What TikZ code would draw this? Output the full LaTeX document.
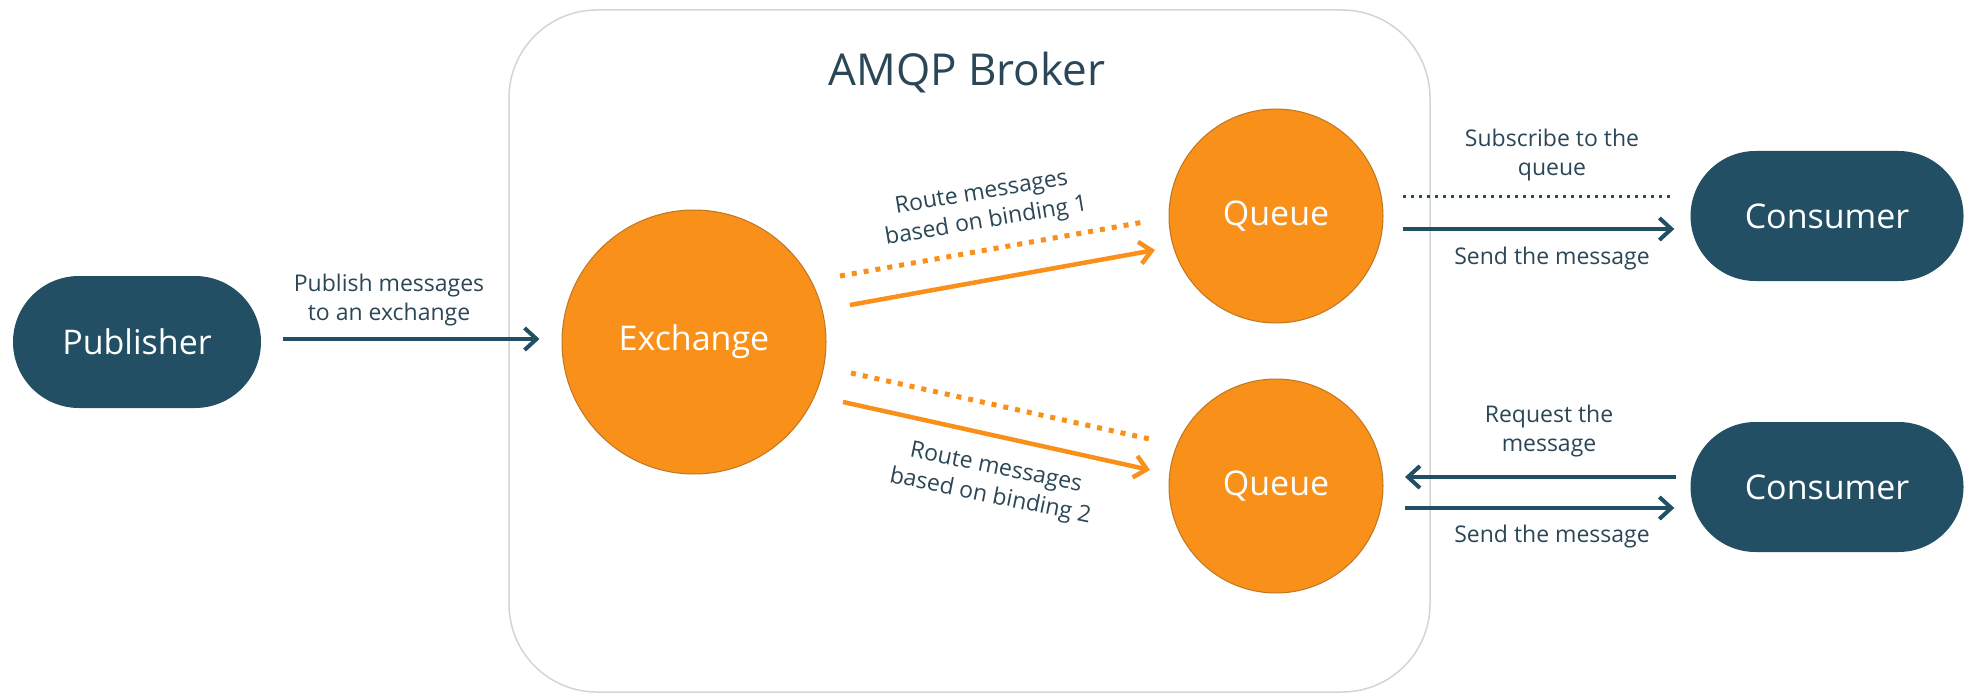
\documentclass[tikz,border=0pt]{standalone}
\usepackage{fontspec}
\setmainfont{Open Sans}
\usetikzlibrary{arrows.meta,shapes.misc,calc}
\definecolor{navy}{HTML}{224F63}
\definecolor{txt}{HTML}{2B4757}
\definecolor{orng}{HTML}{F8901A}
\definecolor{orngb}{HTML}{C0761F}
\definecolor{boxgray}{HTML}{D4D4D4}
\begin{document}
\begin{tikzpicture}[x=1pt,y=-1pt,
 pill/.style={rounded rectangle, fill=navy, text=white, minimum width=250pt, minimum height=132pt, inner sep=0pt, font=\fontsize{34}{40}\selectfont},
 ball/.style={circle, fill=orng, draw=orngb, line width=1pt, text=white, inner sep=0pt, font=\fontsize{34}{40}\selectfont},
 lbl/.style={text=txt, align=center, font=\fontsize{23}{29}\selectfont, inner sep=0pt},
 darrow/.style={draw=navy, line width=4pt, -{Straight Barb[length=12pt,width=22pt]}},
 oarrow/.style={draw=orng, line width=4.5pt, -{Straight Barb[length=12pt,width=22pt]}},
 odots/.style={draw=orng, line width=5pt, dash pattern=on 5pt off 7pt},
 ddots/.style={draw=navy, line width=3pt, dash pattern=on 3pt off 5pt},
]
\useasboundingbox (0,0) rectangle (1970,695);
\node[draw=boxgray, line width=1.5pt, rounded corners=88pt, minimum width=921pt, minimum height=682pt, inner sep=0pt] (broker) at (969.5,351) {};
\node[text=txt, font=\fontsize{44}{50}\selectfont, inner sep=0pt] (title) at (967,73) {AMQP Broker};

\node[pill, minimum width=248pt] (pub) at (137,342) {Publisher};
\node[ball, minimum size=264pt] (ex) at (694,342) {Exchange};
\node[ball, minimum size=214pt] (q1) at (1276,216) {Queue};
\node[ball, minimum size=214pt] (q2) at (1276,486) {Queue};
\node[pill, minimum width=273pt, minimum height=130pt] (c1) at (1827,216) {Consumer};
\node[pill, minimum width=273pt, minimum height=130pt] (c2) at (1827,487) {Consumer};

% connector end points
\coordinate (p1) at ($(pub.east)+(22,-3)$);
\coordinate (p2) at ($(ex.west)+(-22,-3)$);
\coordinate (r1ds) at ($(ex.center)+(146,-66)$);
\coordinate (r1de) at ($(q1.center)+(-132,6)$);
\coordinate (r1ss) at ($(ex.center)+(156,-37)$);
\coordinate (r1se) at ($(q1.center)+(-121,34)$);
\coordinate (r2ds) at ($(ex.center)+(157,31)$);
\coordinate (r2de) at ($(q2.center)+(-122,-46)$);
\coordinate (r2ss) at ($(ex.center)+(149,60)$);
\coordinate (r2se) at ($(q2.center)+(-126,-16)$);
\coordinate (s1a) at ($(q1.center)+(127,-19)$);
\coordinate (s1b) at ($(c1.west)+(-20,-19)$);
\coordinate (m1a) at ($(q1.center)+(127,13)$);
\coordinate (m1b) at ($(c1.west)+(-16,13)$);
\coordinate (m2a) at ($(q2.center)+(129,-9)$);
\coordinate (m2b) at ($(c2.west)+(-14,-10)$);
\coordinate (m3a) at ($(q2.center)+(129,22)$);
\coordinate (m3b) at ($(c2.west)+(-16,21)$);

\draw[darrow] (p1) -- (p2);
\draw[odots] (r1ds) -- (r1de);
\draw[oarrow] (r1ss) -- (r1se);
\draw[odots] (r2ds) -- (r2de);
\draw[oarrow] (r2ss) -- (r2se);
\draw[ddots] (s1a) -- (s1b);
\draw[darrow] (m1a) -- (m1b);
\draw[darrow] (m2b) -- (m2a);
\draw[darrow] (m3a) -- (m3b);

\node[lbl] (lpub) at (389,300) {Publish messages\\to an exchange};
\node[lbl, rotate=9.5] (lr1) at (984,208) {Route messages\\based on binding 1};
\node[lbl, rotate=-11.5] (lr2) at (993,483) {Route messages\\based on binding 2};
\node[lbl] (lsub) at (1552,155) {Subscribe to the\\queue};
\node[lbl] (lsend1) at (1552,259) {Send the message};
\node[lbl] (lreq) at (1549,431) {Request the\\message};
\node[lbl] (lsend2) at (1552,537) {Send the message};
\end{tikzpicture}
\end{document}
